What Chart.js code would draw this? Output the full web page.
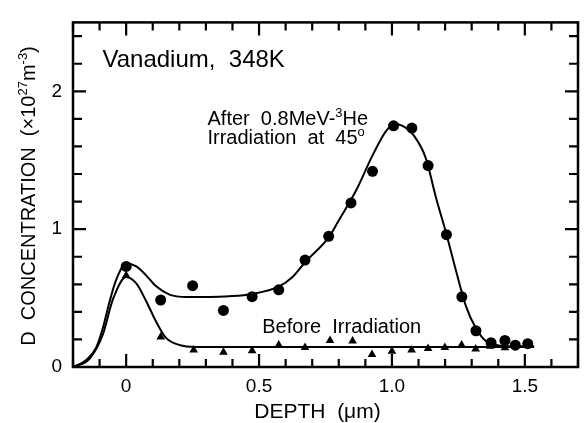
<!DOCTYPE html>
<html>
<head>
<meta charset="utf-8">
<script src="https://cdn.jsdelivr.net/npm/chart.js@4/dist/chart.umd.min.js"></script>
<style>
  html, body { margin: 0; padding: 0; background: #fff; }
  #wrap { width: 585px; height: 423px; }
</style>
</head>
<body>
<div id="wrap"><canvas id="chart" width="585" height="423"></canvas></div>
<script>
// measured points, after 0.8 MeV 3He irradiation (circles)
const depthAfter = [0, 0.13, 0.25, 0.366, 0.474, 0.574, 0.673, 0.762, 0.846, 0.927, 1.006, 1.075, 1.136, 1.205, 1.263, 1.316, 1.373, 1.425, 1.464, 1.511];
const concAfter = [0.73, 0.486, 0.59, 0.41, 0.51, 0.56, 0.776, 0.948, 1.19, 1.42, 1.75, 1.733, 1.461, 0.96, 0.509, 0.263, 0.176, 0.193, 0.158, 0.169];

// measured points, before irradiation (triangles)
const depthBefore = [0, 0.13, 0.254, 0.366, 0.474, 0.574, 0.673, 0.767, 0.852, 0.925, 1.0, 1.074, 1.136, 1.199, 1.262, 1.315, 1.37, 1.425];
const concBefore = [0.664, 0.218, 0.123, 0.107, 0.118, 0.16, 0.141, 0.193, 0.188, 0.09, 0.114, 0.123, 0.135, 0.141, 0.16, 0.13, 0.15, 0.14];

// fitted curves
const fitAfterX = [-0.2, -0.15, -0.113, -0.088, -0.063, -0.038, 0, 0.038, 0.075, 0.113, 0.163, 0.226, 0.313, 0.388, 0.474, 0.574, 0.626, 0.673, 0.762, 0.802, 0.865, 0.927, 0.977, 1.009, 1.04, 1.084, 1.128, 1.165, 1.203, 1.241, 1.278, 1.316, 1.353, 1.391, 1.45, 1.535];
const fitAfterY = [0, 0.05, 0.14, 0.28, 0.47, 0.63, 0.75, 0.73, 0.665, 0.585, 0.525, 0.508, 0.508, 0.513, 0.53, 0.583, 0.653, 0.76, 0.94, 1.07, 1.28, 1.535, 1.71, 1.763, 1.749, 1.675, 1.512, 1.233, 0.978, 0.699, 0.444, 0.281, 0.188, 0.16, 0.15, 0.15];
const fitBeforeX = [-0.2, -0.138, -0.088, -0.05, 0, 0.038, 0.075, 0.113, 0.15, 0.2, 0.263, 1.535];
const fitBeforeY = [0, 0.06, 0.235, 0.49, 0.653, 0.606, 0.479, 0.328, 0.211, 0.16, 0.146, 0.146];

const xLabels = [0, 0.5, 1, 1.5];
const yLabels = [0, 1, 2];

const FONT = '"Liberation Sans", Arial, Helvetica, sans-serif';

function toPoints(xs, ys) {
    return xs.map((x, i) => ({ x: x, y: ys[i] }));
}

function drawRich(ctx, parts, x, y, size) {
    let cx = x;
    parts.forEach(p => {
        const s = p.sup ? Math.round(size * 0.65) : size;
        ctx.font = s + 'px ' + FONT;
        ctx.fillText(p.t, cx, p.sup ? y - size * 0.42 : y);
        cx += ctx.measureText(p.t).width;
    });
    return cx - x;
}

function richWidth(ctx, parts, size) {
    let w = 0;
    parts.forEach(p => {
        const s = p.sup ? Math.round(size * 0.65) : size;
        ctx.font = s + 'px ' + FONT;
        w += ctx.measureText(p.t).width;
    });
    return w;
}

// frame, inward ticks on four sides, and the text labels
const framePlugin = {
    id: 'frame',
    afterDraw(chart) {
        const ctx = chart.ctx;
        const area = chart.chartArea;
        const xs = chart.scales.x;
        const ys = chart.scales.y;
        ctx.save();
        ctx.strokeStyle = '#000';
        ctx.lineWidth = 2.5;
        ctx.strokeRect(area.left, area.top, area.right - area.left, area.bottom - area.top);

        ctx.lineWidth = 2.2;
        ctx.beginPath();
        for (let i = -2; i <= 17; i++) {
            const v = i / 10;
            const px = xs.getPixelForValue(v);
            const len = (i % 5 === 0) ? 13 : 8;
            ctx.moveTo(px, area.bottom);
            ctx.lineTo(px, area.bottom - len);
            ctx.moveTo(px, area.top);
            ctx.lineTo(px, area.top + len);
        }
        for (let i = 0; i <= 12; i++) {
            const v = i / 5;
            const py = ys.getPixelForValue(v);
            const len = (i % 5 === 0) ? 13 : 9;
            ctx.moveTo(area.left, py);
            ctx.lineTo(area.left + len, py);
            ctx.moveTo(area.right, py);
            ctx.lineTo(area.right - len, py);
        }
        ctx.stroke();

        ctx.fillStyle = '#000';
        ctx.textBaseline = 'alphabetic';
        ctx.textAlign = 'left';

        drawRich(ctx, [{ t: 'Vanadium,  348K' }], xs.getPixelForValue(-0.089), ys.getPixelForValue(2.174), 24);
        drawRich(ctx, [{ t: 'After  0.8MeV-' }, { t: '3', sup: true }, { t: 'He' }],
            xs.getPixelForValue(0.306), ys.getPixelForValue(1.756), 20);
        drawRich(ctx, [{ t: 'Irradiation  at  45' }, { t: 'o', sup: true }],
            xs.getPixelForValue(0.306), ys.getPixelForValue(1.617), 20);
        drawRich(ctx, [{ t: 'Before  Irradiation' }], xs.getPixelForValue(0.512), ys.getPixelForValue(0.244), 20);

        // x axis title
        const xTitle = [{ t: 'DEPTH  (\u03bcm)' }];
        const xw = richWidth(ctx, xTitle, 21);
        drawRich(ctx, xTitle, (area.left + area.right) / 2 - xw / 2 - 8, 418, 21);

        // y axis title, rotated
        const yTitle = [{ t: 'D  CONCENTRATION  (\u00d710' }, { t: '27', sup: true }, { t: 'm' }, { t: '-3', sup: true }, { t: ')' }];
        const yw = richWidth(ctx, yTitle, 20);
        ctx.translate(35, 196);
        ctx.rotate(-Math.PI / 2);
        drawRich(ctx, yTitle, -yw / 2, 0, 20);
        ctx.restore();
    }
};

const ctx = document.getElementById('chart');
new Chart(ctx, {
    type: 'scatter',
    data: {
        datasets: [
            {
                label: 'After irradiation',
                data: toPoints(depthAfter, concAfter),
                pointStyle: 'circle',
                pointRadius: 5.5,
                backgroundColor: '#000',
                borderColor: '#000',
                borderWidth: 0,
                order: 0
            },
            {
                label: 'Before irradiation',
                data: toPoints(depthBefore, concBefore),
                pointStyle: 'triangle',
                pointRadius: 5,
                backgroundColor: '#000',
                borderColor: '#000',
                borderWidth: 0,
                order: 1
            },
            {
                label: 'After fit',
                data: toPoints(fitAfterX, fitAfterY),
                showLine: true,
                pointRadius: 0,
                borderColor: '#000',
                borderWidth: 2,
                cubicInterpolationMode: 'monotone',
                order: 2
            },
            {
                label: 'Before fit',
                data: toPoints(fitBeforeX, fitBeforeY),
                showLine: true,
                pointRadius: 0,
                borderColor: '#000',
                borderWidth: 2,
                cubicInterpolationMode: 'monotone',
                order: 3
            }
        ]
    },
    options: {
        responsive: false,
        animation: false,
        layout: {
            padding: { top: 7, right: 7, left: 0, bottom: 0 }
        },
        plugins: {
            legend: { display: false },
            tooltip: { enabled: false }
        },
        scales: {
            x: {
                type: 'linear',
                min: -0.2,
                max: 1.7,
                grid: { display: false, drawTicks: false },
                border: { display: false },
                ticks: {
                    color: '#000',
                    padding: 8,
                    maxRotation: 0,
                    font: { family: FONT, size: 19 }
                },
                afterBuildTicks: scale => { scale.ticks = xLabels.map(v => ({ value: v })); },
                afterFit: scale => { scale.height = 56; }
            },
            y: {
                type: 'linear',
                min: 0,
                max: 2.5,
                grid: { display: false, drawTicks: false },
                border: { display: false },
                ticks: {
                    color: '#000',
                    padding: 11,
                    font: { family: FONT, size: 19 }
                },
                afterBuildTicks: scale => { scale.ticks = yLabels.map(v => ({ value: v })); },
                afterFit: scale => { scale.width = 73; }
            }
        }
    },
    plugins: [framePlugin]
});
</script>
</body>
</html>
